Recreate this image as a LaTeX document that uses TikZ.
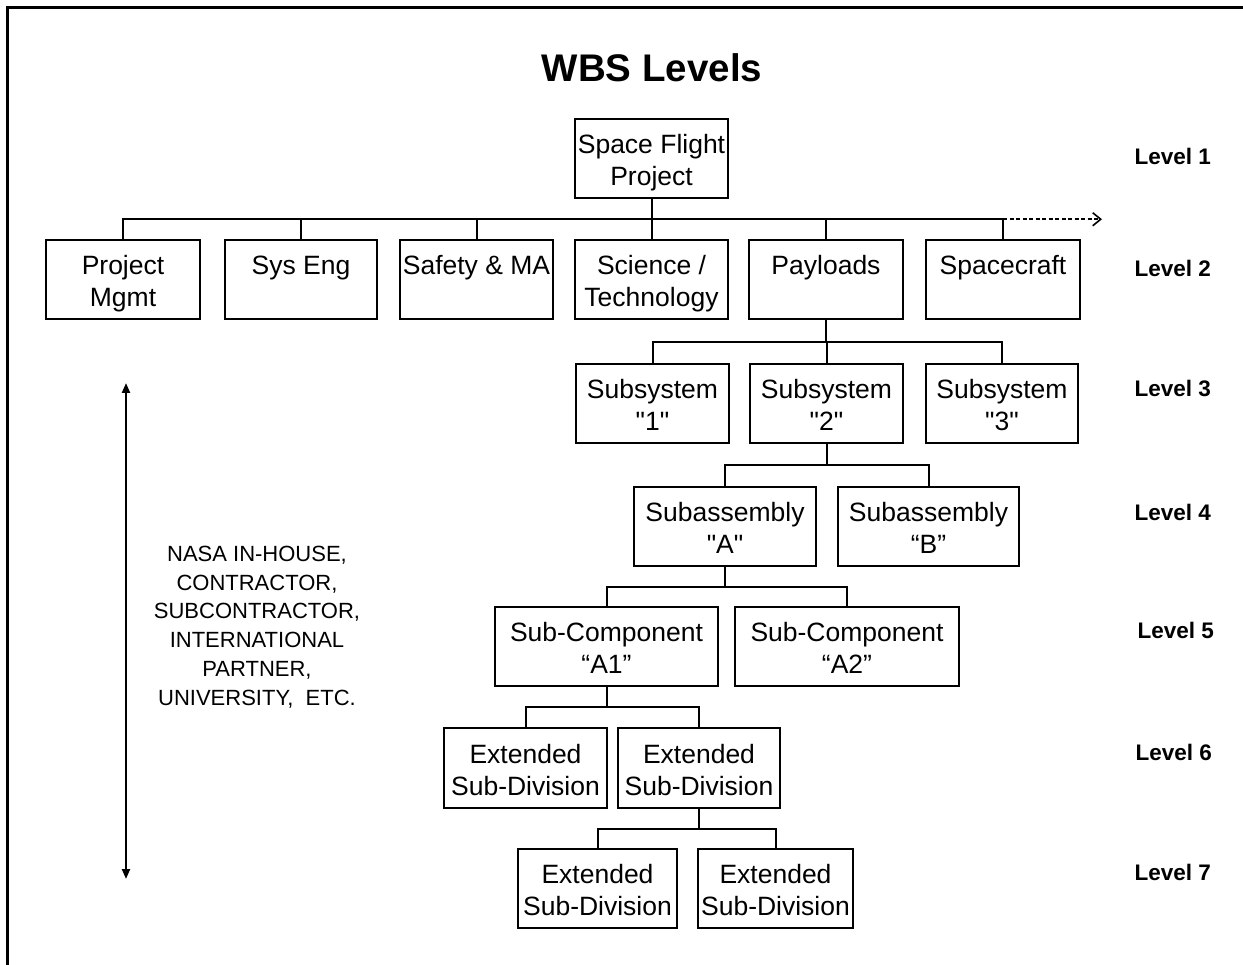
\documentclass[tikz,border=0pt]{standalone}
\usepackage{fontspec}
\setmainfont{Liberation Sans}[Ligatures=TeXOff]
\usetikzlibrary{arrows.meta,calc}
\newcommand\ls{\rule{0pt}{22pt}}
\newcommand\wbslink[2]{\draw[link] (#1.south) -- ($(#1.south)!0.5!(#1.south|-#2.north)$) -| (#2.north);}
\begin{document}
\begin{tikzpicture}[x=1pt,y=-1pt,
  wbsbox/.style={draw, line width=2pt, inner sep=0pt, align=center,
    minimum height=79pt, text depth=0pt,
    font=\fontsize{26.5}{32}\selectfont},
  link/.style={line width=2pt},
  lvl/.style={anchor=base west, font=\bfseries\fontsize{22.5}{26}\selectfont},
  frame/.style={line width=2.5pt}]
\useasboundingbox (0,0) rectangle (1243,965);
\draw[frame] (7.5,975) -- (7.5,7.5) -- (1250,7.5);

\node[anchor=base, font=\bfseries\fontsize{38.5}{44}\selectfont] (title) at (652,82) {WBS Levels};

% Level 1
\node[wbsbox, minimum width=153pt] (SFP) at (651.5,158.5) {\ls Space Flight\\\ls Project};
% Level 2
\node[wbsbox, minimum width=154pt] (PM)  at (123,280)   {\ls Project\\\ls Mgmt};
\node[wbsbox, minimum width=152pt] (SE)  at (301,280)   {\ls Sys Eng\\\ls};
\node[wbsbox, minimum width=153pt] (SMA) at (476.5,280) {\ls Safety \& MA\\\ls};
\node[wbsbox, minimum width=153pt] (ST)  at (651.5,280) {\ls Science /\\\ls Technology};
\node[wbsbox, minimum width=154pt] (PL)  at (826,280)   {\ls Payloads\\\ls};
\node[wbsbox, minimum width=154pt] (SC)  at (1003,280)  {\ls Spacecraft\\\ls};
% Level 3
\node[wbsbox, minimum width=153pt] (S1) at (652.5,403.5) {\ls Subsystem\\\ls "1"};
\node[wbsbox, minimum width=153pt] (S2) at (826.5,403.5) {\ls Subsystem\\\ls "2"};
\node[wbsbox, minimum width=152pt] (S3) at (1002,403.5)  {\ls Subsystem\\\ls "3"};
% Level 4
\node[wbsbox, minimum width=182pt] (SA) at (725,526.5)   {\ls Subassembly\\\ls "A"};
\node[wbsbox, minimum width=181pt] (SB) at (928.5,526.5) {\ls Subassembly\\\ls “B”};
% Level 5
\node[wbsbox, minimum width=223pt] (C1) at (606.5,646.5) {\ls Sub-Component\\\ls “A1”};
\node[wbsbox, minimum width=224pt] (C2) at (847,646.5)   {\ls Sub-Component\\\ls “A2”};
% Level 6
\node[wbsbox, minimum width=163pt, minimum height=80pt] (E1) at (525.5,768) {\ls Extended\\\ls Sub-Division};
\node[wbsbox, minimum width=162pt, minimum height=80pt] (E2) at (699,768)   {\ls Extended\\\ls Sub-Division};
% Level 7
\node[wbsbox, minimum width=159pt] (E3) at (597.5,888.5) {\ls Extended\\\ls Sub-Division};
\node[wbsbox, minimum width=155pt] (E4) at (775.5,888.5) {\ls Extended\\\ls Sub-Division};

% connectors
\foreach \c in {PM,SE,SMA,ST,PL,SC} {\wbslink{SFP}{\c}}
\foreach \c in {S1,S2,S3} {\wbslink{PL}{\c}}
\foreach \c in {SA,SB} {\wbslink{S2}{\c}}
\foreach \c in {C1,C2} {\wbslink{SA}{\c}}
\foreach \c in {E1,E2} {\wbslink{C1}{\c}}
\foreach \c in {E3,E4} {\wbslink{E2}{\c}}

\coordinate (bus2) at ($(SFP.south)!0.5!(SFP.south|-SC.north)$);
\coordinate (dstart) at (SC.north|-bus2);
\coordinate (dend) at (1102,0|-bus2);
\draw[link, line width=1.8pt, dash pattern=on 4pt off 2.5pt,
  -{Straight Barb[length=8pt,width=13pt,line width=1.6pt]}] (dstart) -- (dend);

% level labels
\node[lvl] (lv1) at (1131,165) {Level 1};
\node[lvl] (lv2) at (1131,277) {Level 2};
\node[lvl] (lv3) at (1131,397) {Level 3};
\node[lvl] (lv4) at (1131,520) {Level 4};
\node[lvl] (lv5) at (1134,638) {Level 5};
\node[lvl] (lv6) at (1132,760) {Level 6};
\node[lvl] (lv7) at (1131,880) {Level 7};

% left arrow and text
\coordinate (atop) at (126,383);
\coordinate (abot) at (126,879);
\draw[line width=2.2pt, {Triangle[length=10pt,width=8pt]}-{Triangle[length=10pt,width=8pt]}] (atop) -- (abot);
\node[align=center, font=\fontsize{22}{28.8}\selectfont] (who) at (257,627)
  {NASA IN-HOUSE,\\CONTRACTOR,\\SUBCONTRACTOR,\\INTERNATIONAL\\PARTNER,\\UNIVERSITY,\ \ ETC.};
\end{tikzpicture}
\end{document}
